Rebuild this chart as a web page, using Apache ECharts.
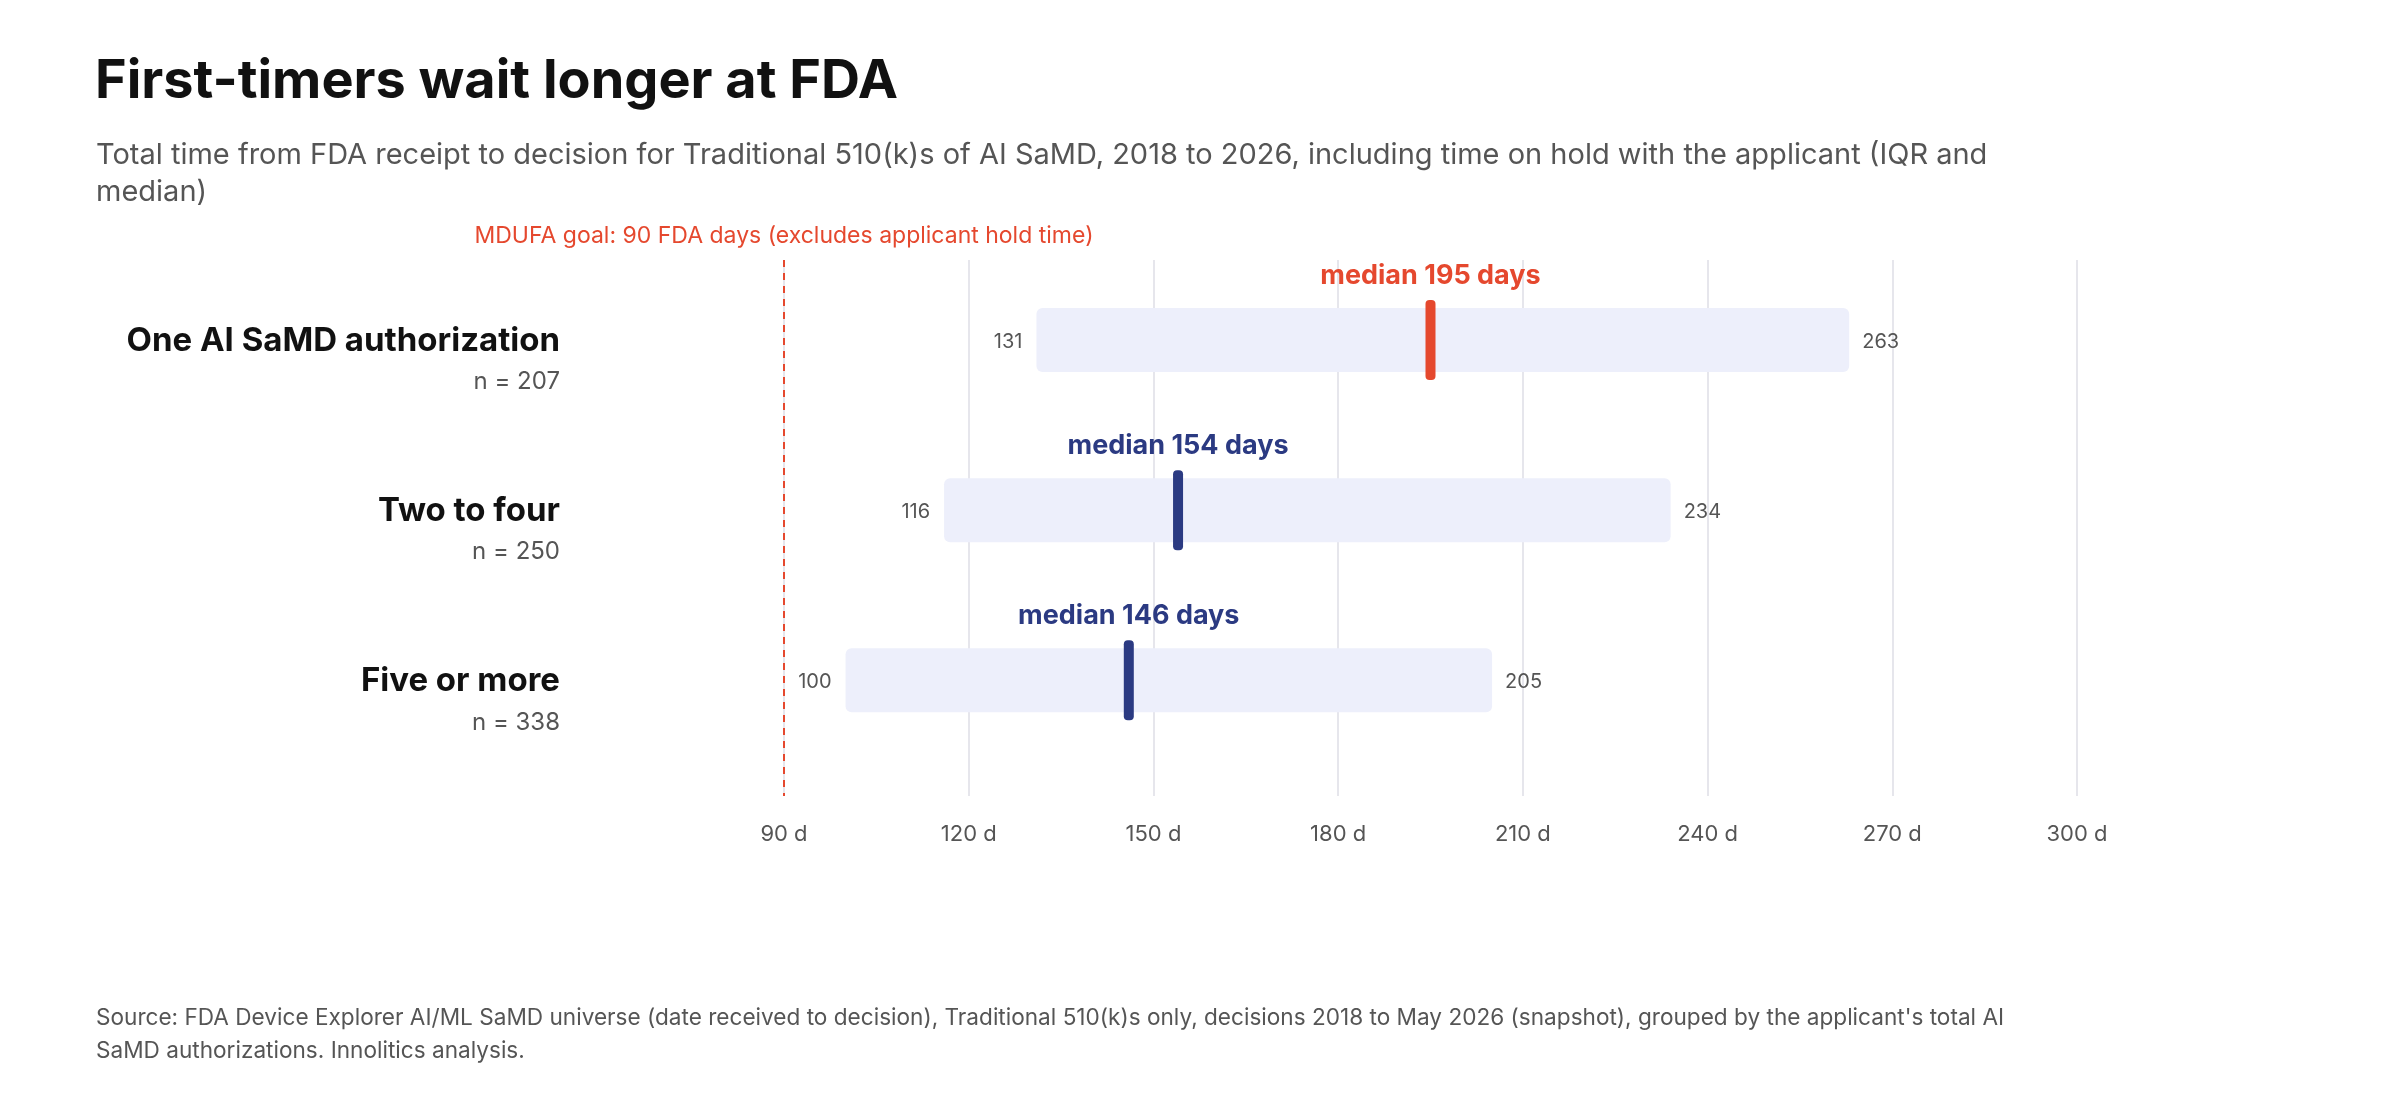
<!DOCTYPE html>
<html>
<head>
<meta charset="utf-8">
<title>First-timers wait longer at FDA</title>
<script src="https://cdn.jsdelivr.net/npm/echarts@6/dist/echarts.min.js"></script>
<style>
    html, body { margin: 0; padding: 0; background: #fff; }
    #chart { width: 2400px; height: 1100px; }
</style>
</head>
<body>
<div id="chart"></div>
<script>
/* ========== data ========== */
const groups = ["One AI SaMD authorization", "Two to four", "Five or more"];
const groupN = [207, 250, 338];
const q1Days = [131, 116, 100];
const medianDays = [195, 154, 146];
const q3Days = [263, 234, 205];
const xTicks = [90, 120, 150, 180, 210, 240, 270, 300];
const goalDays = 90;

const RED = "#E5482E";
const NAVY = "#2B3A82";
const BAND = "#EDEFFB";
const GREY = "#555555";
const FONT = "Inter, 'Noto Sans', sans-serif";

const rows = groups.map((g, i) => [q1Days[i], medianDays[i], q3Days[i], i, groupN[i], g]);

function renderRow(params, api) {
    const lo = api.value(0), med = api.value(1), hi = api.value(2), idx = api.value(3);
    const pLo = api.coord([lo, idx]);
    const pMed = api.coord([med, idx]);
    const pHi = api.coord([hi, idx]);
    const cy = pLo[1];
    const barH = 64;
    const tickH = 80;
    const tickW = 10;
    const col = idx === 0 ? RED : NAVY;
    return {
        type: "group",
        children: [
            {
                type: "rect",
                shape: { x: pLo[0], y: cy - barH / 2, width: pHi[0] - pLo[0], height: barH, r: 6 },
                style: { fill: BAND }
            },
            {
                type: "rect",
                shape: { x: pMed[0] - tickW / 2, y: cy - tickH / 2, width: tickW, height: tickH, r: 4 },
                style: { fill: col }
            },
            {
                type: "text",
                style: {
                    x: pMed[0], y: cy - 64, text: "median " + med + " days",
                    align: "center", verticalAlign: "middle",
                    font: "700 27px " + FONT, fill: col
                }
            },
            {
                type: "text",
                style: {
                    x: pLo[0] - 14, y: cy + 2, text: String(lo),
                    align: "right", verticalAlign: "middle",
                    font: "20px " + FONT, fill: GREY
                }
            },
            {
                type: "text",
                style: {
                    x: pHi[0] + 13, y: cy + 2, text: String(hi),
                    align: "left", verticalAlign: "middle",
                    font: "20px " + FONT, fill: GREY
                }
            },
            {
                type: "text",
                style: {
                    x: 560, y: cy + 1, text: api.value(5),
                    align: "right", verticalAlign: "middle",
                    font: "700 33px " + FONT, fill: "#111111"
                }
            },
            {
                type: "text",
                style: {
                    x: 560, y: cy + 42, text: "n = " + api.value(4),
                    align: "right", verticalAlign: "middle",
                    font: "24px " + FONT, fill: GREY
                }
            }
        ]
    };
}

const chart = echarts.init(document.getElementById("chart"));
chart.setOption({
    backgroundColor: "#ffffff",
    animation: false,
    title: [
        {
            text: "First-timers wait longer at FDA",
            left: 90, top: 50,
            textStyle: { fontFamily: FONT, fontSize: 54, fontWeight: 700, color: "#111111" }
        },
        {
            text: "Total time from FDA receipt to decision for Traditional 510(k)s of AI SaMD, 2018 to 2026, including time on hold with the applicant (IQR and\nmedian)",
            left: 91, top: 132,
            textStyle: { fontFamily: FONT, fontSize: 29, fontWeight: 400, color: GREY, lineHeight: 37 }
        },
        {
            text: "Source: FDA Device Explorer AI/ML SaMD universe (date received to decision), Traditional 510(k)s only, decisions 2018 to May 2026 (snapshot), grouped by the applicant's total AI\nSaMD authorizations. Innolitics analysis.",
            left: 91, top: 997,
            textStyle: { fontFamily: FONT, fontSize: 22.6, fontWeight: 400, color: GREY, lineHeight: 33 }
        }
    ],
    grid: { left: 784, right: 323, top: 260, bottom: 304, containLabel: false },
    xAxis: {
        type: "value", min: 90, max: 300, interval: 30,
        axisLine: { show: false },
        axisTick: { show: false },
        splitLine: { show: true, lineStyle: { color: "#E6E6EC", width: 2 } },
        axisLabel: {
            margin: 27, color: GREY, fontFamily: FONT, fontSize: 22,
            formatter: v => xTicks.includes(v) ? v + " d" : ""
        }
    },
    yAxis: {
        type: "value", inverse: true, min: -0.47, max: 2.68,
        show: false
    },
    series: [
        {
            type: "custom",
            renderItem: renderRow,
            encode: { x: [0, 1, 2], y: 3 },
            data: rows,
            z: 3,
            markLine: {
                silent: true,
                symbol: ["none", "none"],
                lineStyle: { color: RED, type: [7, 6], width: 2 },
                label: {
                    show: true, position: "start", distance: 12,
                    formatter: "MDUFA goal: 90 FDA days (excludes applicant hold time)",
                    color: RED, fontFamily: FONT, fontSize: 23
                },
                data: [{ xAxis: goalDays }]
            }
        }
    ]
});
</script>
</body>
</html>
